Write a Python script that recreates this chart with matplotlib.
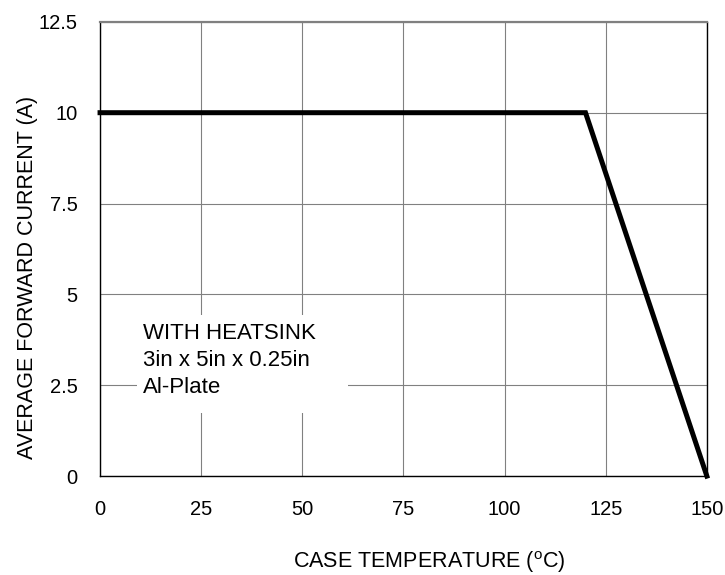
import matplotlib
matplotlib.use('Agg')
import matplotlib.pyplot as plt
from matplotlib.patches import Rectangle

plt.rcParams['font.family'] = ['Liberation Sans', 'DejaVu Sans']
plt.rcParams['mathtext.fontset'] = 'custom'
plt.rcParams['mathtext.rm'] = 'Liberation Sans'

# derating curve: case temperature vs max average forward current
temp_c = [0, 120, 150]
current_a = [10, 10, 0]

x_ticks = [0, 25, 50, 75, 100, 125, 150]
y_ticks = [0, 2.5, 5, 7.5, 10, 12.5]
y_tick_labels = ['0', '2.5', '5', '7.5', '10', '12.5']

fig = plt.figure(figsize=(7.25, 5.75), dpi=100)
ax = fig.add_axes([0.138, 0.172, 0.837, 0.790])

ax.plot(temp_c, current_a, color='black', linewidth=3.6, solid_joinstyle='miter',
        zorder=4, clip_on=False)

ax.set_xlim(0, 150)
ax.set_ylim(0, 12.5)
ax.set_xticks(x_ticks)
ax.set_yticks(y_ticks)
ax.set_yticklabels(y_tick_labels)
ax.tick_params(length=0, labelsize=14.5)
ax.tick_params(axis='x', pad=17)
ax.tick_params(axis='y', pad=16)
ax.grid(True, color='#808080', linewidth=0.8)
ax.set_axisbelow(True)
for side in ['left', 'bottom', 'right']:
    ax.spines[side].set_color('black')
    ax.spines[side].set_linewidth(1.0)
ax.spines['top'].set_color('#808080')
ax.spines['top'].set_linewidth(1.6)

ax.set_xlabel(r'CASE TEMPERATURE ($^{\mathrm{o}}$C)', fontsize=15.5)
ax.set_ylabel('AVERAGE FORWARD CURRENT (A)', fontsize=15.5)
ax.xaxis.set_label_coords(0.542, -0.160)
ax.yaxis.set_label_coords(-0.103, 0.438)

# white patch hides the grid behind the note
ax.add_patch(Rectangle((9.1, 1.73), 52.2, 2.70, facecolor='white',
                       edgecolor='none', zorder=2))
ax.text(10.6, 4.22, 'WITH HEATSINK\n3in x 5in x 0.25in\nAl-Plate', fontsize=16,
        va='top', ha='left', linespacing=1.37, zorder=3)

fig.savefig('out.png', dpi=100)
